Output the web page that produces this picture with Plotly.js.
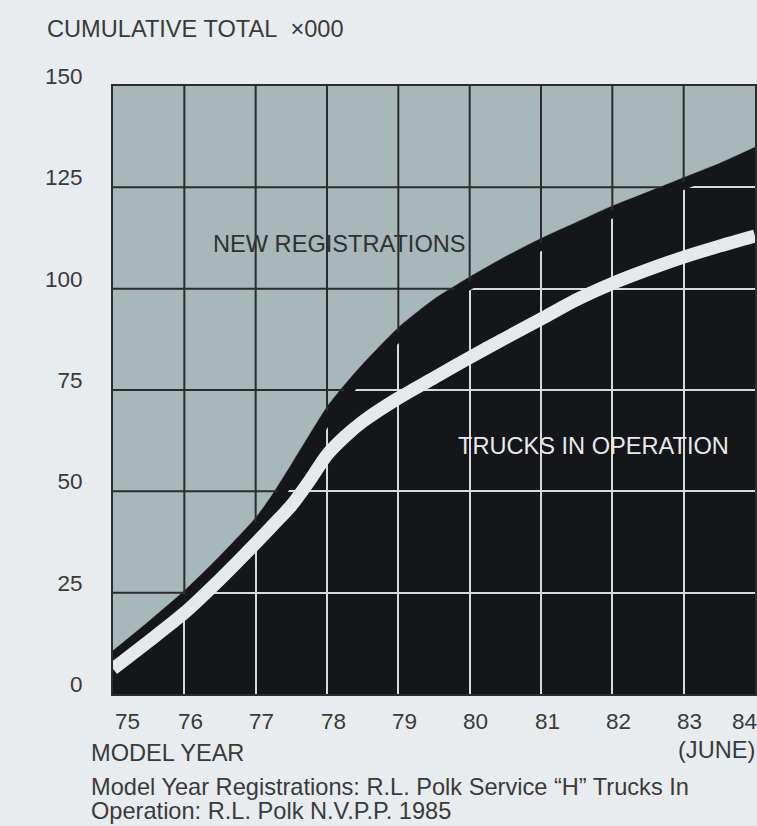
<!DOCTYPE html>
<html>
<head>
<meta charset="utf-8">
<script src="https://cdn.plot.ly/plotly-3.0.1.min.js"></script>
<style>
  html, body { margin: 0; padding: 0; background: #e9ecee; }
  #chart { width: 757px; height: 826px; }
</style>
</head>
<body>
<div id="chart"></div>
<script>
// ---------------- data ----------------
const modelYears = [75, 75.5, 76, 76.5, 77, 77.25, 77.5, 77.75, 78, 78.25, 78.5, 79, 79.5, 80, 80.5, 81, 81.5, 82, 82.5, 83, 83.5, 84];
// cumulative new registrations (x 000)
const newRegistrations = [10.8, 18, 25.6, 34.2, 43.6, 49.8, 56.8, 64, 71, 76.5, 81.5, 90.5, 97.5, 103, 108, 112.5, 116.5, 120.5, 124, 127.5, 131, 135];
// trucks in operation (x 000)
const trucksInOperation = [6.2, 13, 20, 28.3, 37.2, 41.8, 46.5, 52.5, 59, 63.5, 67.2, 73, 78, 83, 87.8, 92.5, 97.3, 101.3, 104.7, 107.8, 110.5, 113];

const yTickValues = [0, 25, 50, 75, 100, 125, 150];
const xTickYears = [75, 76, 77, 78, 79, 80, 81, 82, 83, 84];
const xTickLabels = ['75', '76', '77', '78', '79', '80', '81', '82', '83', '84'];

// ---------------- styling ----------------
const PAGE = '#e9ecee';
const GREY = '#a8b7b7';
const BLACK = '#15161a';
const DARK_GRID = '#2a2c2f';
const LIGHT_GRID = '#d6dbdd';
const WHITE_LINE = '#e5e9eb';
const TEXT = '#3a3a3a';
const FONT = 'Liberation Sans, Arial, Helvetica, sans-serif';
const TXT_SIZE = 23.6;
const NUM_SIZE = 22.5;

const L = 113, R = 755, T = 86, B = 694, W = 757, H = 826;
const px = x => (x - L) / (R - L);
const py = y => (B - y) / (B - T);

function valueAt(xs, ys, x) {
  for (let i = 0; i < xs.length - 1; i++) {
    if (x >= xs[i] && x <= xs[i + 1]) {
      const t = (x - xs[i]) / (xs[i + 1] - xs[i]);
      return ys[i] + t * (ys[i + 1] - ys[i]);
    }
  }
  return ys[ys.length - 1];
}
function crossingAt(xs, ys, y) {
  for (let i = 0; i < xs.length - 1; i++) {
    if ((y - ys[i]) * (y - ys[i + 1]) <= 0) {
      const t = (y - ys[i]) / (ys[i + 1] - ys[i]);
      return xs[i] + t * (xs[i + 1] - xs[i]);
    }
  }
  return null;
}

const xMin = xTickYears[0], xMax = xTickYears[xTickYears.length - 1];
const yMin = yTickValues[0], yMax = yTickValues[yTickValues.length - 1];

// dark grid inside the grey (new registrations) region
const gx = [], gy = [];
xTickYears.slice(1, -1).forEach(x => {
  const yb = valueAt(modelYears, newRegistrations, x);
  gx.push(x, x, null); gy.push(yb - 1.2, yMax, null);
});
yTickValues.slice(1, -1).forEach(y => {
  const xc = crossingAt(modelYears, newRegistrations, y);
  if (xc !== null) { gx.push(xMin, xc + 0.06, null); gy.push(y, y, null); }
});

const traces = [
  { // black margin along the registrations edge (keeps the light grid inset)
    x: modelYears, y: newRegistrations, mode: 'lines',
    line: { color: BLACK, width: 24, shape: 'spline', smoothing: 0.6 },
    hoverinfo: 'skip'
  },
  { // top edge of grey area
    x: [xMin, xMax], y: [yMax, yMax], mode: 'lines',
    line: { width: 0, color: GREY }, hoverinfo: 'skip'
  },
  { // new registrations (grey area above)
    x: modelYears, y: newRegistrations, mode: 'lines', name: 'New registrations',
    fill: 'tonexty', fillcolor: GREY,
    line: { color: GREY, width: 0.5, shape: 'spline', smoothing: 0.6 }
  },
  { // dark grid in the grey area
    x: gx, y: gy, mode: 'lines', connectgaps: false,
    line: { color: DARK_GRID, width: 2 }, hoverinfo: 'skip'
  },
  { // trucks in operation
    x: modelYears, y: trucksInOperation, mode: 'lines', name: 'Trucks in operation',
    line: { color: WHITE_LINE, width: 13, shape: 'spline', smoothing: 0.7 }
  }
];

const annotations = [];
xTickYears.forEach((yr, i) => {
  let shift = 6;
  if (i === 0) shift = 14;
  if (i === xTickYears.length - 1) shift = -11;
  annotations.push({
    xref: 'x', yref: 'paper', x: yr, y: py(721), xshift: shift,
    text: xTickLabels[i], showarrow: false, xanchor: 'center', yanchor: 'middle',
    font: { family: FONT, size: NUM_SIZE, color: TEXT }
  });
});
annotations.push(
  { xref: 'paper', yref: 'paper', x: px(89), y: py(753), xanchor: 'left', yanchor: 'middle',
    text: 'MODEL YEAR', showarrow: false, font: { family: FONT, size: TXT_SIZE, color: TEXT } },
  { xref: 'paper', yref: 'paper', x: px(757), y: py(750), xanchor: 'right', yanchor: 'middle',
    text: '(JUNE)', showarrow: false, font: { family: FONT, size: TXT_SIZE, color: TEXT } },
  { xref: 'paper', yref: 'paper', x: px(89), y: py(787), xanchor: 'left', yanchor: 'middle',
    text: 'Model Year Registrations: R.L. Polk Service \u201cH\u201d Trucks In', showarrow: false,
    font: { family: FONT, size: TXT_SIZE, color: TEXT } },
  { xref: 'paper', yref: 'paper', x: px(89), y: py(811), xanchor: 'left', yanchor: 'middle',
    text: 'Operation: R.L. Polk N.V.P.P. 1985', showarrow: false,
    font: { family: FONT, size: TXT_SIZE, color: TEXT } },
  { xref: 'x', yref: 'y', x: 78.17, y: 111, xanchor: 'center', yanchor: 'middle',
    text: 'NEW REGISTRATIONS', showarrow: false, font: { family: FONT, size: TXT_SIZE, color: '#2e3133' } },
  { xref: 'x', yref: 'y', x: 81.74, y: 61.2, xanchor: 'center', yanchor: 'middle',
    text: 'TRUCKS IN OPERATION', showarrow: false, font: { family: FONT, size: TXT_SIZE, color: '#e8eaeb' } }
);

const layout = {
  width: W, height: H,
  margin: { l: L, r: W - R, t: T, b: H - B, pad: 0 },
  paper_bgcolor: PAGE, plot_bgcolor: BLACK,
  showlegend: false,
  font: { family: FONT, size: TXT_SIZE, color: TEXT },
  title: {
    text: 'CUMULATIVE TOTAL\u00a0 \u00d7000',
    xref: 'container', yref: 'container',
    x: 47 / W, xanchor: 'left', y: 1 - 29 / H, yanchor: 'middle',
    font: { family: FONT, size: TXT_SIZE, color: TEXT }
  },
  xaxis: {
    range: [xMin, xMax], tickvals: xTickYears, showticklabels: false, ticks: '',
    showgrid: true, gridcolor: LIGHT_GRID, gridwidth: 2,
    showline: true, mirror: true, linecolor: DARK_GRID, linewidth: 2,
    zeroline: false, fixedrange: true
  },
  yaxis: {
    range: [yMin, yMax], tickvals: yTickValues, ticks: '',
    showgrid: true, gridcolor: LIGHT_GRID, gridwidth: 2,
    showline: true, mirror: true, linecolor: DARK_GRID, linewidth: 2,
    zeroline: false, fixedrange: true,
    ticklabelshift: -10, ticklabelstandoff: 24,
    tickfont: { family: FONT, size: NUM_SIZE, color: TEXT }
  },
  annotations: annotations
};

Plotly.newPlot('chart', traces, layout, { staticPlot: true, displayModeBar: false });
</script>
</body>
</html>
